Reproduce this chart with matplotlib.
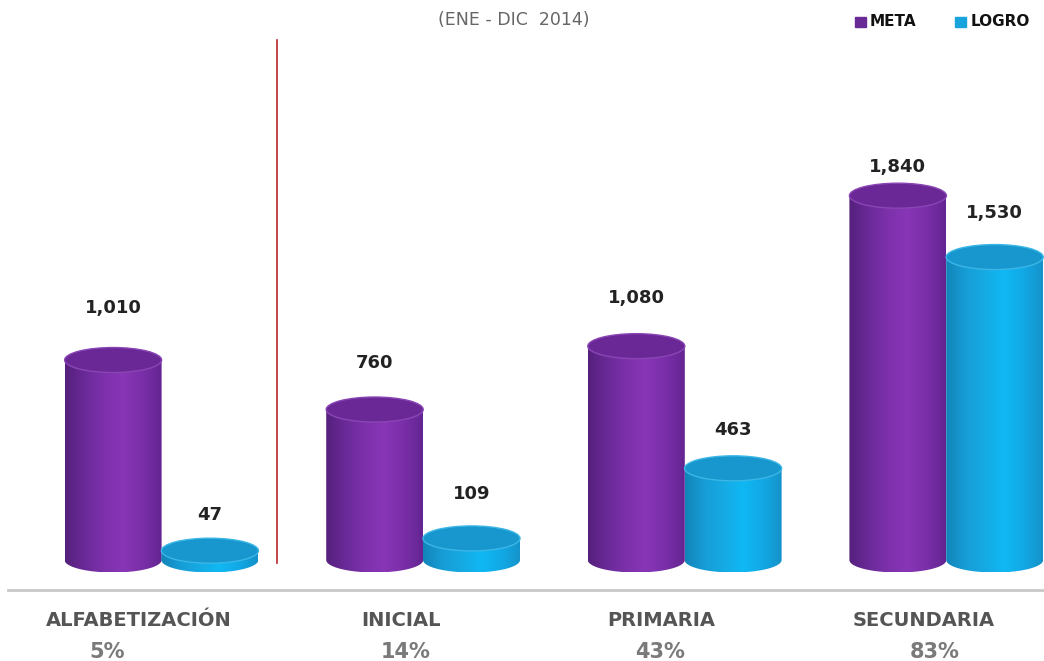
import numpy as np
import matplotlib
matplotlib.use('Agg')
import matplotlib.pyplot as plt
from matplotlib.patches import Ellipse, PathPatch, Rectangle
from matplotlib.path import Path
from matplotlib.colors import LinearSegmentedColormap
from matplotlib.lines import Line2D

categories = ['ALFABETIZACIÓN', 'INICIAL', 'PRIMARIA', 'SECUNDARIA']
percent = ['5%', '14%', '43%', '83%']
meta = [1010, 760, 1080, 1840]
logro = [47, 109, 463, 1530]
title = '(ENE - DIC  2014)'

W, H = 1044, 661
px_unit = 0.198          # pixels per data unit (vertical)
grp_px = 261.6           # pixels between groups
base_px = 101            # baseline (bottom ellipse centre) from bottom of figure
eh = 25 / px_unit        # ellipse height in data units
bw = 97 / grp_px         # bar width in x units

purple_body = LinearSegmentedColormap.from_list(
    'pb', ['#55207c', '#6a2a98', '#7d31ab', '#8836b6', '#7a2fa8', '#632592'])
cyan_body = LinearSegmentedColormap.from_list(
    'cb', ['#1284b8', '#179dd6', '#16aae3', '#0fb8f4', '#12a9e6', '#1592c9'])

fig = plt.figure(figsize=(W / 100, H / 100), dpi=100)
ax = fig.add_axes([0, 0, 1, 1])
ax.set_axis_off()


def cylinder(xc, h, cmap, top_face, top_edge):
    x0, x1 = xc - bw / 2, xc + bw / 2
    th = np.linspace(np.pi, 2 * np.pi, 60)
    verts = [(x0, h), (x0, 0)] + list(zip(xc + bw / 2 * np.cos(th), eh / 2 * np.sin(th))) + [(x1, h), (x0, h)]
    codes = [Path.MOVETO] + [Path.LINETO] * (len(verts) - 2) + [Path.CLOSEPOLY]
    patch = PathPatch(Path(verts, codes), facecolor='none', edgecolor='none')
    ax.add_patch(patch)
    grad = np.linspace(0, 1, 256).reshape(1, -1)
    im = ax.imshow(grad, cmap=cmap, extent=(x0, x1, -eh / 2, h), aspect='auto',
                   origin='lower', interpolation='bicubic', zorder=2)
    im.set_clip_path(patch)
    ax.add_patch(Ellipse((xc, h), bw, eh, facecolor=top_face, edgecolor=top_edge,
                         lw=1.0, zorder=3))


meta_pad = [40, 34, 36, 16]
logro_pad = [23, 32, 26, 32]

for i in range(len(categories)):
    xm, xl = i - 0.185, i + 0.185
    cylinder(xm, meta[i], purple_body, '#6a2896', '#8a45b5')
    cylinder(xl, logro[i], cyan_body, '#1797ce', '#3bb6e6')
    for xc, v, pad in [(xm, meta[i], meta_pad[i]), (xl, logro[i], logro_pad[i])]:
        ytop = v + eh / 2 + pad / px_unit
        ax.text(xc, ytop, f'{v:,}', ha='center', va='center', fontsize=13,
                fontweight='bold', color='#222222', zorder=4)

ax.set_xlim(-161.5 / grp_px, (W - 161.5) / grp_px)
ax.set_ylim(-base_px / px_unit, (H - base_px) / px_unit)

# category labels and percentages
xoff = [-23, -22, -23, -23]
poff = [-54, -17, -25, -12]
for i, (c, p) in enumerate(zip(categories, percent)):
    ax.text(i + xoff[i] / grp_px, 1 - 620 / H, c, transform=ax.get_xaxis_transform(),
            ha='center', va='center', fontsize=14, fontweight='bold', color='#555555')
    ax.text(i + poff[i] / grp_px, 1 - 652 / H, p, transform=ax.get_xaxis_transform(),
            ha='center', va='center', fontsize=15, fontweight='bold', color='#7a7a7a')

# baseline and separator
fig.add_artist(Line2D([8 / W, 1], [1 - 590 / H] * 2, color='#c8c8c8', lw=2))
ax.plot([(277 - 161.5) / grp_px] * 2, [1 - 563 / H, 1 - 40 / H], color='#b8282e', lw=1.2,
        transform=ax.get_xaxis_transform(), zorder=1)

# title
fig.text(514 / W, 1 - 20 / H, title, ha='center', va='center', fontsize=12.5,
         color='#666666')

# legend
fig.add_artist(Rectangle((855 / W, 1 - 27 / H), 11 / W, 10 / H, color='#6a2a96',
                         transform=fig.transFigure))
fig.text(870 / W, 1 - 22 / H, 'META', ha='left', va='center', fontsize=11,
         fontweight='bold', color='#111111')
fig.add_artist(Rectangle((955 / W, 1 - 27 / H), 11 / W, 10 / H, color='#17a3dc',
                         transform=fig.transFigure))
fig.text(971 / W, 1 - 22 / H, 'LOGRO', ha='left', va='center', fontsize=11,
         fontweight='bold', color='#111111')

fig.savefig('out.png', dpi=100)
